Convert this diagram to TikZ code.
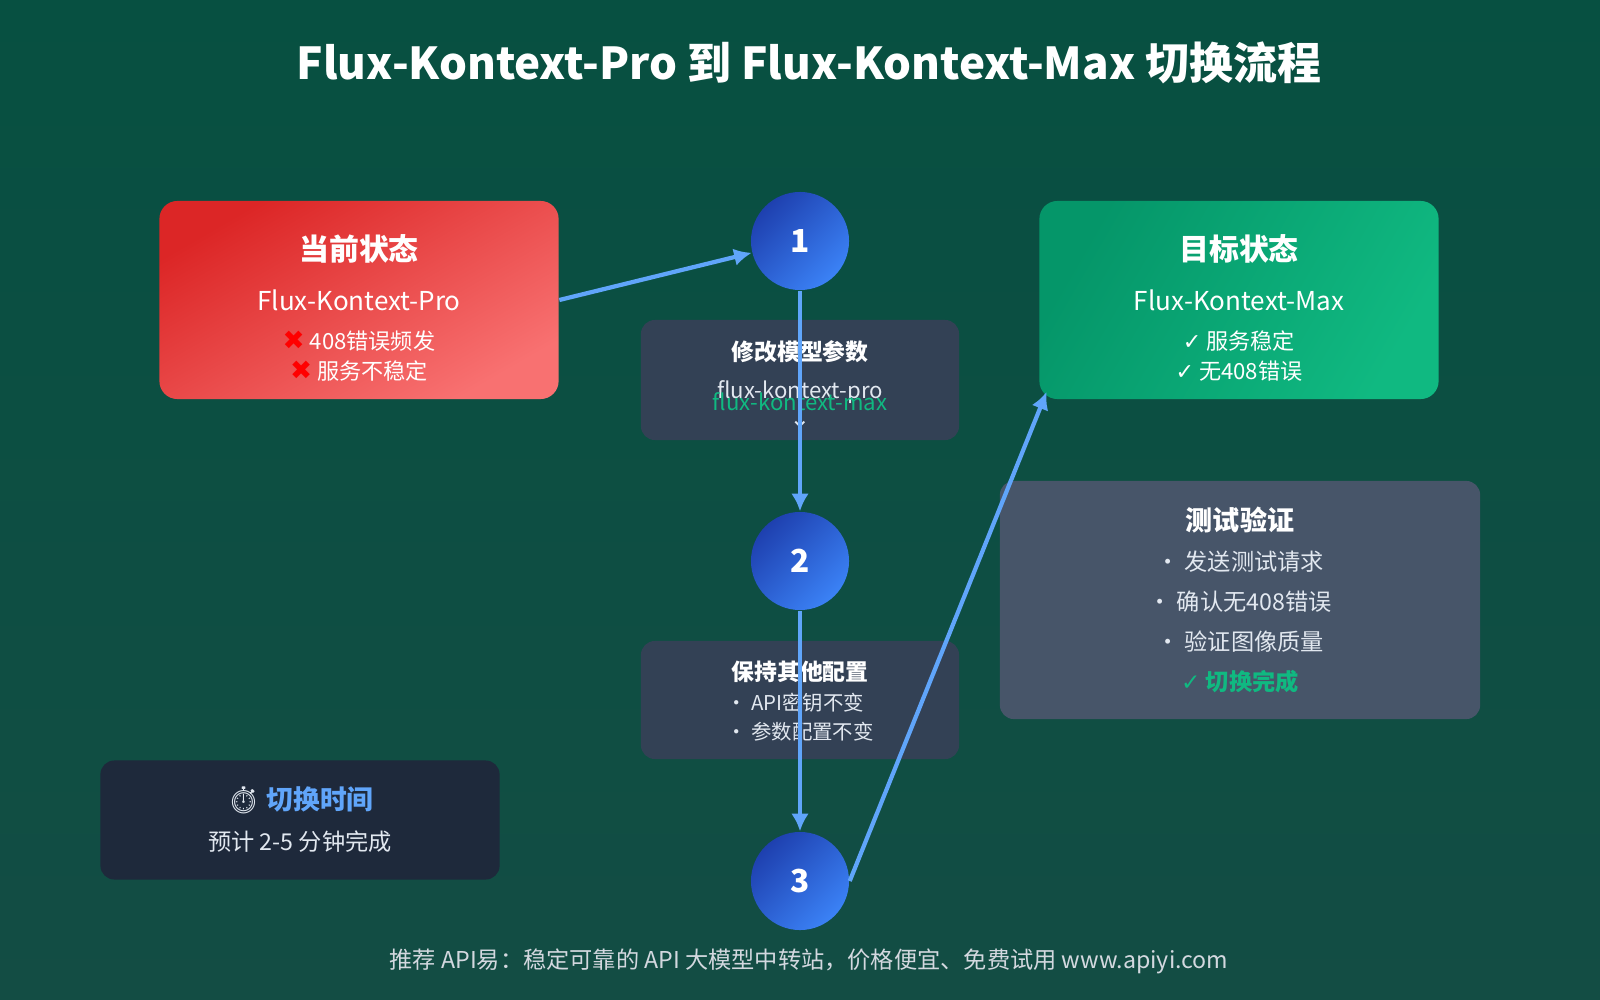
\documentclass[tikz,border=0pt]{standalone}
\usepackage{fontspec}
\setmainfont{Noto Sans CJK SC}
\newfontfamily\symfont{DejaVu Sans}
\newfontfamily\emojifont{Noto Emoji}
\usetikzlibrary{arrows.meta}

\definecolor{bgtop}{HTML}{075041}
\definecolor{bgbot}{HTML}{134D44}
\definecolor{flow}{HTML}{60A5FA}
\definecolor{okgreen}{HTML}{10B981}
\definecolor{slate}{HTML}{334155}
\definecolor{slatelight}{HTML}{475569}
\definecolor{navy}{HTML}{1E293B}
\definecolor{txtlight}{HTML}{E2E8F0}
\definecolor{reddark}{HTML}{DC2626}
\definecolor{redlight}{HTML}{F87171}
\definecolor{bluedark}{HTML}{1E40AF}
\definecolor{bluelight}{HTML}{3B82F6}
\definecolor{greendark}{HTML}{059669}

\tikzset{
  statebox/.style={rounded corners=0.18cm,minimum width=3.99cm,minimum height=1.98cm,text=white,align=center},
  stepcircle/.style={circle,minimum size=0.98cm,top color=bluedark,bottom color=bluelight,shading angle=45,text=white,font=\bfseries\fontsize{9pt}{10pt}\selectfont},
  infobox/.style={rounded corners=0.14cm,fill=slate},
  flowarrow/.style={draw=flow,line width=1.2pt,-{Latex[length=5pt,width=5pt]}},
}

\begin{document}
\begin{tikzpicture}[x=0.01cm,y=-0.01cm]
    \shade[top color=bgtop,bottom color=bgbot] (0,0) rectangle (1600,1000);
    \useasboundingbox (0,0) rectangle (1600,1000);
    \path (809,63) node (title) [text=white,font=\bfseries\fontsize{12.5pt}{14pt}\selectfont] {Flux-Kontext-Pro 到 Flux-Kontext-Max 切换流程};
    % state boxes
    \path (359,300) node (cur) [statebox,top color=reddark,bottom color=redlight,shading angle=30] {};
    \path (1239,300) node (tgt) [statebox,top color=greendark,bottom color=okgreen,shading angle=60] {};
    \path (359,249) node (curhead) [text=white,font=\bfseries\fontsize{8.5pt}{10pt}\selectfont] {当前状态};
    \path (359,300) node (curname) [text=white,font=\fontsize{7.4pt}{9pt}\selectfont] {Flux-Kontext-Pro};
    \path (359,356) node (curlist) [text=white,align=center,font=\fontsize{6.3pt}{8.4pt}\selectfont] {{\symfont\color{red}\fontsize{7.5pt}{8pt}\selectfont ✖} 408错误频发\\{\symfont\color{red}\fontsize{7.5pt}{8pt}\selectfont ✖} 服务不稳定};
    \path (1239,249) node (tgthead) [text=white,font=\bfseries\fontsize{8.5pt}{10pt}\selectfont] {目标状态};
    \path (1239,300) node (tgtname) [text=white,font=\fontsize{7.4pt}{9pt}\selectfont] {Flux-Kontext-Max};
    \path (1239,356) node (tgtlist) [text=white,align=center,font=\fontsize{6.3pt}{8.4pt}\selectfont] {{\symfont ✓} 服务稳定\\{\symfont ✓} 无408错误};
    % info boxes
    \path (800,380) node (modbox) [infobox,minimum width=3.18cm,minimum height=1.2cm] {};
    \path (800,700) node (keepbox) [infobox,minimum width=3.18cm,minimum height=1.18cm] {};
    \path (1240,600) node (testbox) [infobox,fill=slatelight,minimum width=4.8cm,minimum height=2.38cm] {};
    \path (300,820) node (timebox) [infobox,fill=navy,minimum width=3.99cm,minimum height=1.19cm] {};
    \path (800,352) node (modhead) [text=white,font=\bfseries\fontsize{6.5pt}{8pt}\selectfont] {修改模型参数};
    \path (800,392) node (modpro) [text=txtlight,font=\fontsize{6.3pt}{8pt}\selectfont] {flux-kontext-pro};
    \path (800,402) node (modmax) [text=okgreen,font=\fontsize{6.3pt}{8pt}\selectfont] {flux-kontext-max};
    \path (800,424) node (moddown) [text=txtlight,font=\symfont\fontsize{7pt}{8pt}\selectfont] {⌄};
    \path (800,672) node (keephead) [text=white,font=\bfseries\fontsize{6.5pt}{8pt}\selectfont] {保持其他配置};
    \path (800,717) node (keeplist) [text=txtlight,align=left,font=\fontsize{5.8pt}{8.4pt}\selectfont] {• API密钥不变\\• 参数配置不变};
    \path (1240,520) node (testhead) [text=white,font=\bfseries\fontsize{7.7pt}{9pt}\selectfont] {测试验证};
    \path (1240,562) node (test1) [text=txtlight,font=\fontsize{6.6pt}{8pt}\selectfont] {• 发送测试请求};
    \path (1240,602) node (test2) [text=txtlight,font=\fontsize{6.6pt}{8pt}\selectfont] {• 确认无408错误};
    \path (1240,642) node (test3) [text=txtlight,font=\fontsize{6.6pt}{8pt}\selectfont] {• 验证图像质量};
    \path (1240,682) node (test4) [text=okgreen,font=\bfseries\fontsize{6.6pt}{8pt}\selectfont] {{\symfont ✓} 切换完成};
    \path (300,800) node (timehead) [text=flow,font=\bfseries\fontsize{7.6pt}{9pt}\selectfont] {{\emojifont\color{txtlight}⏱} 切换时间};
    \path (300,842) node (timeline) [text=txtlight,font=\fontsize{6.6pt}{8pt}\selectfont] {预计 2-5 分钟完成};
    % steps
    \path (800,241) node (c1) [stepcircle] {1};
    \path (800,561) node (c2) [stepcircle] {2};
    \path (800,881) node (c3) [stepcircle] {3};
    \draw [flowarrow] (cur.east) -- (c1);
    \draw [flowarrow] (c1) -- (c2);
    \draw [flowarrow] (c2) -- (c3);
    \draw [flowarrow] (c3.east) -- ([shift={(8,-8)}]tgt.south west);
    \path (809,961) node (footer) [text=txtlight!85!gray,font=\fontsize{6.6pt}{8pt}\selectfont] {推荐 API易：稳定可靠的 API 大模型中转站，价格便宜、免费试用 www.apiyi.com};
\end{tikzpicture}
\end{document}
